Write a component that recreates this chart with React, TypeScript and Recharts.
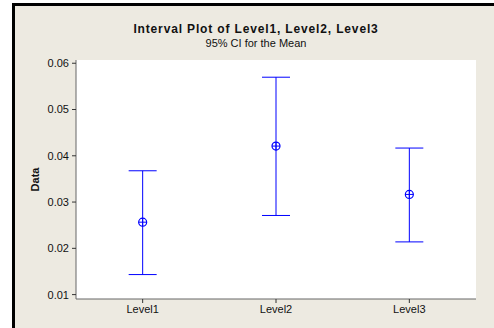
import { ComposedChart, Scatter, ErrorBar, XAxis, YAxis, CartesianGrid } from 'recharts';

const levels = ['Level1', 'Level2', 'Level3'];
const means = [0.02565, 0.0421, 0.03165];
const lowers = [0.01433, 0.0271, 0.02139];
const uppers = [0.03676, 0.05698, 0.04167];
const yTicks = [0.01, 0.02, 0.03, 0.04, 0.05, 0.06];

const data = levels.map((name, i) => ({
  name,
  mean: means[i],
  ci: [means[i] - lowers[i], uppers[i] - means[i]],
}));

const BLUE = '#0000ff';
const FONT = '"Liberation Sans", Arial, sans-serif';

// circle with a cross, Minitab style mean symbol
const MeanMarker = (props: any) => {
  const { cx, cy } = props;
  if (cx == null || cy == null) return null;
  return (
    <g>
      <circle cx={cx} cy={cy} r={4} fill="none" stroke={BLUE} strokeWidth={1.2} />
      <line x1={cx - 4} x2={cx + 4} y1={cy} y2={cy} stroke={BLUE} strokeWidth={1} />
      <line x1={cx} x2={cx} y1={cy - 4} y2={cy + 4} stroke={BLUE} strokeWidth={1} />
    </g>
  );
};

const App = () => (
  <div style={{ position: 'absolute', left: 0, top: 0, width: 494, height: 328, background: '#fff', fontFamily: FONT }}>
    <div
      style={{
        position: 'absolute', left: 12, top: 3, width: 482, height: 325,
        background: '#edeae1', borderLeft: '3px solid #000', borderTop: '3px solid #000',
        boxSizing: 'border-box',
      }}
    />
    <div style={{ position: 'absolute', left: 0, width: 512, top: 22, textAlign: 'center', fontSize: 12, fontWeight: 'bold', letterSpacing: 0.85, color: '#111' }}>
      Interval Plot of Level1, Level2, Level3
    </div>
    <div style={{ position: 'absolute', left: 0, width: 512, top: 37, textAlign: 'center', fontSize: 11, color: '#111' }}>
      95% CI for the Mean
    </div>
    <div style={{ position: 'absolute', left: 0, top: 0 }}>
      <ComposedChart width={494} height={328} data={data} margin={{ top: 60, right: 18, bottom: 9, left: 10 }}>
        <CartesianGrid fill="#ffffff" horizontal={false} vertical={false} />
        <XAxis
          dataKey="name"
          type="category"
          scale="band"
          height={20}
          tickSize={4}
          tick={{ fill: '#111', fontSize: 11, fontFamily: FONT }}
          axisLine={{ stroke: '#666' }}
          tickLine={{ stroke: '#333' }}
        />
        <XAxis xAxisId="top" orientation="top" dataKey="name" scale="band" height={0} tick={false} tickLine={false} axisLine={{ stroke: '#666' }} />
        <YAxis
          type="number"
          width={66}
          domain={[0.00905, 0.0607]}
          ticks={yTicks}
          tickFormatter={(v: number) => v.toFixed(2)}
          tickSize={4}
          tickMargin={3}
          tick={{ fill: '#111', fontSize: 11, fontFamily: FONT }}
          axisLine={{ stroke: '#666' }}
          tickLine={{ stroke: '#333' }}
          label={{ value: 'Data', angle: -90, position: 'insideLeft', offset: 25, style: { textAnchor: 'middle', fontWeight: 'bold', fontSize: 11, fill: '#111', fontFamily: FONT } }}
        />
        <YAxis yAxisId="right" orientation="right" width={0} domain={[0.00905, 0.0607]} tick={false} tickLine={false} axisLine={{ stroke: '#666' }} />
        <Scatter dataKey="mean" fill={BLUE} shape={<MeanMarker />} isAnimationActive={false}>
          <ErrorBar dataKey="ci" direction="y" width={14} stroke={BLUE} strokeWidth={1} isAnimationActive={false} />
        </Scatter>
      </ComposedChart>
    </div>
  </div>
);

export default App;
